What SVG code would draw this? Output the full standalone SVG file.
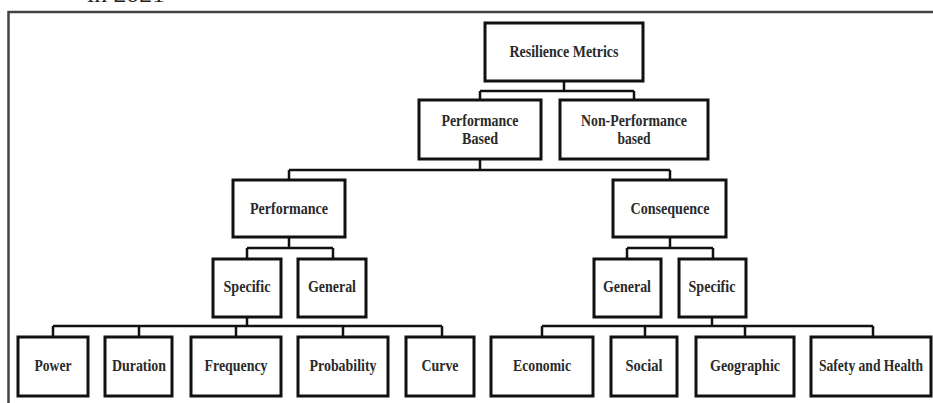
<svg xmlns="http://www.w3.org/2000/svg" width="933" height="403" viewBox="0 0 933 403">
<style>
.box{fill:#fff;stroke:#111;stroke-width:3}
.t{font-family:"Liberation Serif","Times New Roman",serif;font-weight:bold;font-size:16.5px;fill:#2a2a2a;text-anchor:middle}
.c{fill:none;stroke:#111;stroke-width:2.5}
.frame{fill:none;stroke:#444;stroke-width:2.5}
</style>
<rect width="933" height="403" fill="#fff"/>
<text x="87" y="2" font-family="Liberation Serif,serif" font-size="22" fill="#222" textLength="78" lengthAdjust="spacingAndGlyphs">in 2021</text>
<path class="frame" d="M8.5,403 V12 H940"/>
<g id="connectors">
<path class="c" d="M564,81 V91 M480,91 H634 M480,91 V100 M634,91 V100"/>
<path class="c" d="M480,159 V170 M289,170 H670 M289,170 V180 M670,170 V180"/>
<path class="c" d="M289,237 V248 M247,248 H333 M247,248 V259 M333,248 V259"/>
<path class="c" d="M670,237 V248 M627,248 H713 M627,248 V259 M713,248 V259"/>
<path class="c" d="M247,317 V326 M53,326 H442 M53,326 V337 M139,326 V337 M236,326 V337 M343,326 V337 M442,326 V337"/>
<path class="c" d="M712,317 V326 M542,326 H873 M542,326 V337 M645,326 V337 M745,326 V337 M873,326 V337"/>
</g>
<g id="resilience-metrics"><rect class="box" x="485" y="23" width="158" height="58"/><text class="t" x="564" y="57" textLength="109" lengthAdjust="spacingAndGlyphs">Resilience Metrics</text></g>
<g id="performance-based"><rect class="box" x="419" y="100" width="122" height="59"/><text class="t" x="480" y="126" textLength="77" lengthAdjust="spacingAndGlyphs">Performance</text><text class="t" x="480" y="144" textLength="36" lengthAdjust="spacingAndGlyphs">Based</text></g>
<g id="non-performance-based"><rect class="box" x="560" y="100" width="148" height="59"/><text class="t" x="634" y="126" textLength="106" lengthAdjust="spacingAndGlyphs">Non-Performance</text><text class="t" x="634" y="144" textLength="33" lengthAdjust="spacingAndGlyphs">based</text></g>
<g id="performance"><rect class="box" x="233" y="180" width="112" height="57"/><text class="t" x="289" y="214" textLength="78" lengthAdjust="spacingAndGlyphs">Performance</text></g>
<g id="consequence"><rect class="box" x="613" y="180" width="113" height="57"/><text class="t" x="670" y="214" textLength="79" lengthAdjust="spacingAndGlyphs">Consequence</text></g>
<g id="perf-specific"><rect class="box" x="213" y="259" width="68" height="58"/><text class="t" x="247" y="292" textLength="47" lengthAdjust="spacingAndGlyphs">Specific</text></g>
<g id="perf-general"><rect class="box" x="298" y="259" width="68" height="58"/><text class="t" x="332" y="292" textLength="48" lengthAdjust="spacingAndGlyphs">General</text></g>
<g id="cons-general"><rect class="box" x="594" y="259" width="67" height="58"/><text class="t" x="627" y="292" textLength="48" lengthAdjust="spacingAndGlyphs">General</text></g>
<g id="cons-specific"><rect class="box" x="679" y="259" width="67" height="58"/><text class="t" x="712" y="292" textLength="47" lengthAdjust="spacingAndGlyphs">Specific</text></g>
<g id="power"><rect class="box" x="18" y="337" width="70" height="59"/><text class="t" x="53" y="371" textLength="37" lengthAdjust="spacingAndGlyphs">Power</text></g>
<g id="duration"><rect class="box" x="105" y="337" width="67" height="59"/><text class="t" x="139" y="371" textLength="54" lengthAdjust="spacingAndGlyphs">Duration</text></g>
<g id="frequency"><rect class="box" x="191" y="337" width="90" height="59"/><text class="t" x="236" y="371" textLength="63" lengthAdjust="spacingAndGlyphs">Frequency</text></g>
<g id="probability"><rect class="box" x="298" y="337" width="90" height="59"/><text class="t" x="343" y="371" textLength="67" lengthAdjust="spacingAndGlyphs">Probability</text></g>
<g id="curve"><rect class="box" x="406" y="337" width="68" height="59"/><text class="t" x="440" y="371" textLength="37" lengthAdjust="spacingAndGlyphs">Curve</text></g>
<g id="economic"><rect class="box" x="491" y="337" width="102" height="59"/><text class="t" x="542" y="371" textLength="58" lengthAdjust="spacingAndGlyphs">Economic</text></g>
<g id="social"><rect class="box" x="611" y="337" width="66" height="59"/><text class="t" x="644" y="371" textLength="37" lengthAdjust="spacingAndGlyphs">Social</text></g>
<g id="geographic"><rect class="box" x="696" y="337" width="98" height="59"/><text class="t" x="745" y="371" textLength="70" lengthAdjust="spacingAndGlyphs">Geographic</text></g>
<g id="safety-and-health"><rect class="box" x="811" y="337" width="120" height="59"/><text class="t" x="871" y="371" font-size="15.5" textLength="104" lengthAdjust="spacingAndGlyphs">Safety and Health</text></g>
</svg>
